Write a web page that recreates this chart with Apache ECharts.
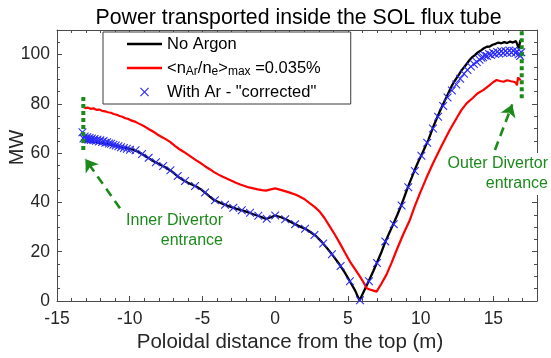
<!DOCTYPE html>
<html>
<head>
<meta charset="utf-8">
<script src="https://cdn.jsdelivr.net/npm/echarts@6/dist/echarts.min.js"></script>
<style>
  html, body { margin: 0; padding: 0; background: #ffffff; }
  #chart { width: 551px; height: 358px; }
</style>
</head>
<body>
<div id="chart"></div>
<script>
// Power along the SOL flux tube, poloidal distance (m) vs power (MW)
const noArgonX = [-13.25,-13.1,-12.9,-12.7,-12.5,-12.3,-12.1,-11.9,-11.7,-11.5,-11.3,-11.1,-10.9,-10.7,-10.5,-10.3,-10.1,-9.9,-9.6,-9.3,-9.0,-8.7,-8.4,-8.1,-7.8,-7.5,-7.2,-6.9,-6.6,-6.3,-6.0,-5.7,-5.4,-5.1,-4.8,-4.5,-4.2,-3.9,-3.6,-3.3,-3.0,-2.7,-2.4,-2.1,-1.8,-1.5,-1.2,-0.9,-0.64,-0.3,0.0,0.4,0.8,1.2,1.6,2.0,2.4,2.8,3.2,3.6,4.0,4.4,4.8,5.2,5.5,5.8,6.1,6.45,6.75,7.0,7.3,7.57,7.85,8.15,8.4,8.69,8.9,9.15,9.4,9.62,9.85,10.1,10.3,10.52,10.7,10.86,11.1,11.32,11.55,11.78,11.95,12.13,12.3,12.47,12.64,12.81,13.0,13.16,13.35,13.55,13.75,13.95,14.15,14.35,14.55,14.75,14.95,15.15,15.35,15.55,15.75,15.95,16.15,16.35,16.55,16.68,16.75,16.85,16.95];
const noArgonY = [65.6,65.0,64.8,64.9,64.5,64.6,64.2,64.3,63.9,63.8,63.4,63.3,62.9,62.7,62.4,62.2,61.9,61.7,61.0,60.2,59.1,58.0,56.8,55.9,55.0,54.1,53.0,51.6,50.1,49.0,48.0,47.2,46.4,45.3,43.9,42.4,41.0,40.2,39.4,38.7,38.1,37.5,37.0,36.5,35.9,35.2,34.6,34.0,33.3,34.0,34.7,34.0,33.0,31.7,30.5,29.5,28.1,26.4,24.0,21.2,18.2,15.0,11.4,7.3,4.2,0.2,4.0,8.3,12.2,15.6,19.8,24.0,27.7,31.6,35.0,39.2,42.6,46.6,50.3,53.6,56.7,59.8,62.4,65.3,68.0,70.6,74.0,77.0,80.0,82.8,84.9,87.2,89.0,90.5,92.0,93.6,95.0,96.2,97.7,99.0,99.9,101.0,101.7,102.6,103.2,103.3,104.0,104.4,104.9,104.6,105.1,104.7,105.3,104.9,105.5,105.2,102.6,105.8,105.3];

const argonX = [-13.2,-13.05,-12.9,-12.7,-12.5,-12.3,-12.1,-11.9,-11.7,-11.5,-11.3,-11.1,-10.9,-10.7,-10.5,-10.3,-10.1,-9.9,-9.6,-9.3,-9.0,-8.7,-8.4,-8.1,-7.8,-7.5,-7.2,-6.9,-6.6,-6.3,-6.0,-5.7,-5.4,-5.1,-4.8,-4.5,-4.2,-3.9,-3.6,-3.3,-3.0,-2.7,-2.4,-2.1,-1.8,-1.5,-1.2,-0.9,-0.64,-0.3,0.0,0.5,1.0,1.47,2.0,2.39,2.75,3.07,3.4,3.76,4.1,4.45,4.8,5.14,5.5,5.83,6.05,6.29,6.6,6.97,7.3,7.66,8.0,8.35,8.8,9.26,9.6,9.95,10.4,10.86,11.4,12.0,12.5,12.8,13.16,13.6,13.9,14.3,14.7,15.0,15.22,15.45,15.7,15.95,16.2,16.4,16.55,16.62,16.7,16.8,16.88];
const argonY = [79.0,78.3,78.5,78.0,78.2,77.6,77.7,77.2,77.0,76.6,76.4,75.9,75.6,75.1,74.8,74.2,73.9,73.3,72.7,71.8,70.9,69.8,68.8,67.6,66.6,65.6,64.5,63.0,61.7,60.6,59.4,58.2,57.0,55.9,54.6,53.5,52.3,51.3,50.4,49.6,48.8,48.0,47.3,46.7,46.1,45.7,45.3,45.0,44.8,45.3,45.7,44.9,44.0,43.0,41.4,39.6,38.0,36.2,33.6,30.2,27.0,23.4,19.6,16.0,12.8,9.9,7.8,5.2,4.5,3.8,7.0,10.8,15.5,20.7,27.0,32.9,38.5,43.7,50.0,56.0,62.5,69.4,74.5,77.5,80.2,82.5,84.2,85.6,87.4,88.9,89.7,89.3,89.0,89.6,89.2,89.0,88.6,87.5,90.8,89.8,90.2];

const correctedX = [-13.25,-13.18,-13.1,-13.0,-12.92,-12.84,-12.76,-12.68,-12.6,-12.5,-12.42,-12.32,-12.22,-12.12,-12.02,-11.9,-11.8,-11.68,-11.55,-11.42,-11.28,-11.12,-10.96,-10.78,-10.6,-10.4,-10.2,-9.98,-9.6,-9.15,-8.7,-8.2,-7.7,-7.2,-6.7,-6.2,-5.51,-4.82,-4.14,-3.45,-2.88,-2.3,-1.73,-1.16,-0.58,0.0,0.69,1.37,2.05,2.7,3.3,3.9,4.5,5.14,5.83,6.45,7.0,7.57,8.15,8.69,9.15,9.6,10.05,10.45,10.85,11.2,11.55,11.85,12.15,12.45,12.72,12.98,13.22,13.45,13.66,13.86,14.05,14.18,14.3,14.42,14.56,14.7,14.84,14.98,15.12,15.26,15.4,15.54,15.68,15.82,15.96,16.1,16.24,16.38,16.52,16.64,16.74,16.84,16.92];
const correctedY = [68.5,66.0,66.8,65.7,66.5,65.5,66.2,65.3,66.0,65.2,65.8,65.0,65.5,64.7,65.2,64.5,64.9,64.2,64.4,63.9,63.8,63.4,63.1,62.8,62.4,62.1,61.8,61.4,61.2,59.7,58.1,56.3,54.8,53.1,50.7,48.7,46.7,44.0,40.9,39.1,37.8,36.8,35.8,34.6,33.4,34.7,33.2,31.2,29.3,26.8,23.3,19.0,14.2,8.0,0.3,8.0,15.4,24.2,31.2,38.8,46.2,52.8,59.0,64.2,70.0,74.8,79.2,82.6,85.4,87.9,90.2,92.2,93.8,95.2,96.2,97.0,97.9,98.7,98.9,99.7,99.4,100.3,99.9,100.8,100.3,101.1,100.5,101.4,100.7,101.5,100.8,101.7,100.9,101.6,100.7,101.3,100.2,99.4,101.0];

// Divertor entrance markers (dotted) and the arrows pointing at them
const innerEntranceX = [-13.19, -13.19];
const innerEntranceY = [61.3, 83.6];
const outerEntranceX = [16.95, 16.95];
const outerEntranceY = [82.3, 110];
const innerArrow = [[-10.67, 37.6], [-13.05, 57.6]];
const outerArrow = [[15.11, 61.3], [16.3, 79.8]];

const seriesNames = ['No Argon', '<nAr/ne>max =0.035%', 'With Ar - "corrected"'];
const xTicks = { min: -15, max: 18, major: 5, minor: 1 };
const yTicks = { min: 0, max: 110, major: 20, minor: 5 };

const FONT = '"Liberation Sans", Arial, Helvetica, sans-serif';
const GREEN = '#1b8a1b';
const AXIS = '#4a4a4a';
const TEXT = '#262626';

const zip = (xs, ys) => xs.map((x, i) => [x, ys[i]]);
const crossPath = 'path://M0,9 L9,0 L50,41 L91,0 L100,9 L59,50 L100,91 L91,100 L50,59 L9,100 L0,91 L41,50 Z';
const legendLinePath = 'path://M0,0 L35,0 L35,2.3 L0,2.3 Z';

function axisDef(position, ticks, step, tickLen, labels, frame, margin) {
  return {
    type: 'value', position, min: ticks.min, max: ticks.max, interval: step,
    axisLine: { show: frame, onZero: false, lineStyle: { color: AXIS, width: 1 } },
    axisTick: { show: true, inside: true, length: tickLen, lineStyle: { color: AXIS, width: 1 } },
    axisLabel: labels ? {
      show: true, fontSize: 17.5, color: TEXT, fontFamily: FONT, margin: margin,
      formatter: v => (v === ticks.max ? '' : String(v))
    } : { show: false },
    splitLine: { show: false }
  };
}

const xAxes = [
  axisDef('bottom', xTicks, xTicks.major, 5, true, true, 9),
  axisDef('bottom', xTicks, xTicks.minor, 3, false, false),
  axisDef('top', xTicks, xTicks.major, 5, false, true),
  axisDef('top', xTicks, xTicks.minor, 3, false, false)
];
Object.assign(xAxes[0], {
  name: 'Poloidal distance from the top (m)',
  nameLocation: 'middle', nameGap: 31, nameMoveOverlap: false,
  nameTextStyle: { fontSize: 20.5, color: TEXT, fontFamily: FONT, padding: [0, 14, 0, 0] }
});

const yAxes = [
  axisDef('left', yTicks, yTicks.major, 5, true, true, 7),
  axisDef('left', yTicks, yTicks.minor, 3, false, false),
  axisDef('right', yTicks, yTicks.major, 5, false, true),
  axisDef('right', yTicks, yTicks.minor, 3, false, false)
];
Object.assign(yAxes[0], {
  name: 'MW',
  nameLocation: 'middle', nameGap: 30, nameRotate: 90, nameMoveOverlap: false,
  nameTextStyle: { fontSize: 20, color: TEXT, fontFamily: FONT, padding: [0, 0, 0, 36] }
});

const arrowLine = pts => ({
  silent: true,
  symbol: ['none', 'arrow'],
  symbolSize: 12,
  label: { show: false },
  emphasis: { disabled: true },
  lineStyle: { color: GREEN, width: 2.6, type: [9, 6] },
  data: [[{ coord: pts[0] }, { coord: pts[1] }]]
});

const chart = echarts.init(document.getElementById('chart'), null, { renderer: 'canvas' });
chart.setOption({
  animation: false,
  backgroundColor: '#ffffff',
  title: {
    text: 'Power transported inside the SOL flux tube',
    left: 293.5, top: 3, textAlign: 'center',
    textStyle: { fontSize: 21.3, fontWeight: 'normal', color: '#000', fontFamily: FONT }
  },
  grid: { left: 57, right: 14, top: 30, bottom: 57, containLabel: false, outerBoundsMode: 'none' },
  xAxis: xAxes,
  yAxis: yAxes,
  legend: {
    orient: 'vertical',
    left: 103, top: 32,
    padding: [2, 30, 2, 24],
    itemWidth: 35, itemHeight: 9, itemGap: 4,
    backgroundColor: '#ffffff',
    borderColor: '#3a3a3a', borderWidth: 1, borderRadius: 0,
    selectedMode: false,
    data: [
      { name: seriesNames[0], icon: legendLinePath },
      { name: seriesNames[1], icon: legendLinePath },
      { name: seriesNames[2], icon: crossPath }
    ],
    formatter: name => name === seriesNames[1]
      ? '{m|<n}{s|Ar}{m|/n}{s|e}{m|>}{s|max}{m| =0.035%}'
      : name,
    textStyle: {
      fontSize: 16.5, color: '#000', fontFamily: FONT, lineHeight: 20,
      rich: {
        m: { fontSize: 16.5, fontFamily: FONT, color: '#000', lineHeight: 20 },
        s: { fontSize: 12, fontFamily: FONT, color: '#000', lineHeight: 11, verticalAlign: 'bottom' }
      }
    }
  },
  series: [
    {
      name: seriesNames[0], type: 'line', data: zip(noArgonX, noArgonY),
      symbol: 'none', lineStyle: { color: '#000000', width: 2.3 }, itemStyle: { color: '#000000' },
      z: 3
    },
    {
      name: seriesNames[1], type: 'line', data: zip(argonX, argonY),
      symbol: 'none', lineStyle: { color: '#ff0000', width: 2.2 }, itemStyle: { color: '#ff0000' },
      z: 3
    },
    {
      name: seriesNames[2], type: 'scatter', data: zip(correctedX, correctedY),
      symbol: crossPath, symbolSize: 8.5,
      itemStyle: { color: '#2b2bff', opacity: 1 },
      z: 4
    },
    {
      name: 'inner entrance', type: 'line', data: zip(innerEntranceX, innerEntranceY),
      symbol: 'none', lineStyle: { color: GREEN, width: 4, type: [4, 3], cap: 'butt' },
      markLine: arrowLine(innerArrow),
      z: 5
    },
    {
      name: 'outer entrance', type: 'line', data: zip(outerEntranceX, outerEntranceY),
      symbol: 'none', lineStyle: { color: GREEN, width: 4, type: [4, 3], cap: 'butt' },
      markLine: arrowLine(outerArrow),
      z: 5
    }
  ],
  graphic: [
    {
      type: 'text', x: 223, y: 230.5, z: 10,
      style: {
        text: 'Inner Divertor\nentrance', align: 'right', verticalAlign: 'middle',
        fontSize: 16, lineHeight: 20, fill: GREEN, fontFamily: FONT
      }
    },
    {
      type: 'text', x: 548, y: 174, z: 10,
      style: {
        text: 'Outer Divertor\nentrance', align: 'right', verticalAlign: 'middle',
        fontSize: 16, lineHeight: 20, fill: GREEN, fontFamily: FONT,
        backgroundColor: '#ffffff', padding: [1, 0, 1, 2]
      }
    }
  ]
});
</script>
</body>
</html>
